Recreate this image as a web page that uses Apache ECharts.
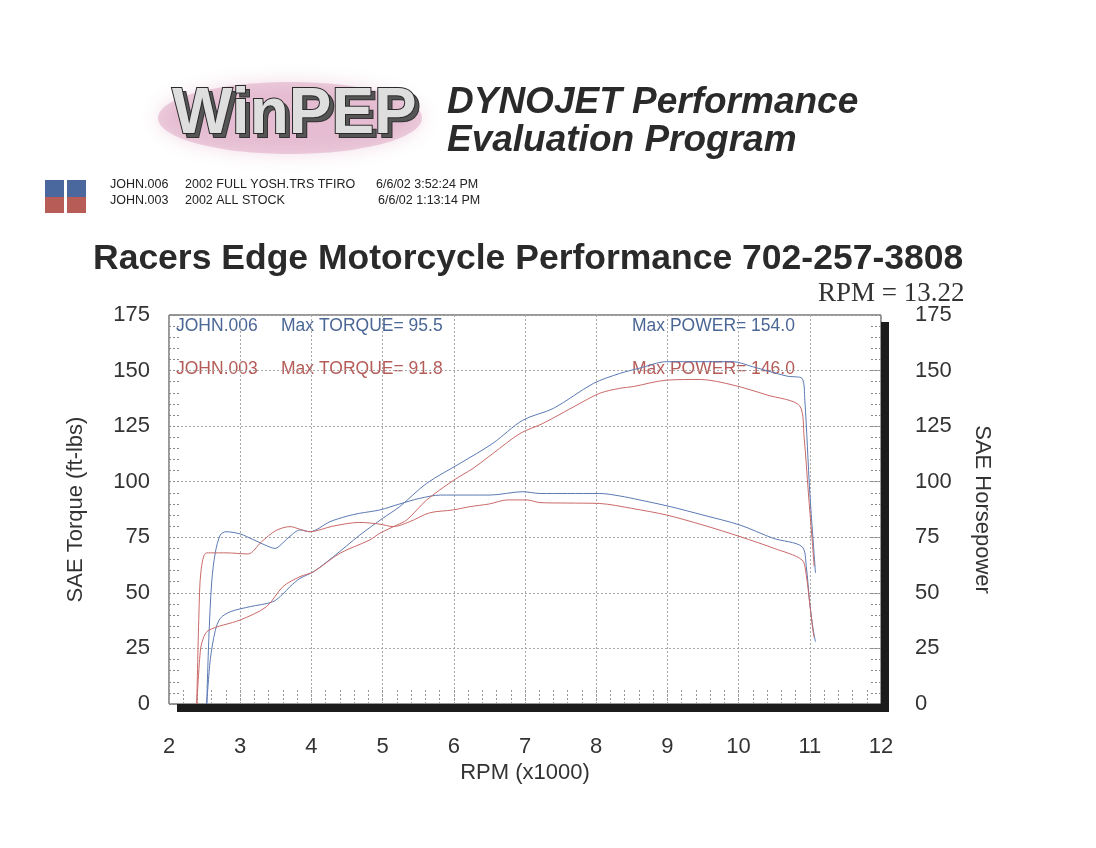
<!DOCTYPE html>
<html>
<head>
<meta charset="utf-8">
<title>WinPEP Dyno Chart</title>
<script src="https://cdn.jsdelivr.net/npm/echarts@6/dist/echarts.min.js"></script>
<style>
  html, body { margin: 0; padding: 0; background: #fff; }
  #chart { width: 1096px; height: 848px; }
</style>
</head>
<body>
<div id="chart"></div>
<script>
// JOHN.006 - 2002 FULL YOSH.TRS TFIRO (blue)
const blueTorqueRpm = [2.53, 2.56, 2.60, 2.65, 2.72, 2.80, 3.00, 3.18, 3.35, 3.49, 3.60, 3.70, 3.84, 3.98, 4.26, 4.50, 4.68, 4.96, 5.24, 5.52, 5.81, 6.20, 6.51, 6.97, 7.21, 7.60, 8.05, 8.33, 8.61, 9.04, 9.50, 10.02, 10.49, 10.89, 10.95, 11.00, 11.05, 11.08];
const blueTorque    = [0, 30, 55, 68, 76, 77.5, 76.5, 74, 71.5, 70, 72.5, 75.5, 78.3, 77.5, 82, 84.5, 85.8, 87.3, 90, 92.5, 94, 94, 94, 95.5, 94.7, 94.7, 94.7, 93.6, 91.8, 88.8, 85, 80.5, 74.5, 70.8, 62, 45, 33, 28];
const blueHpRpm = [2.53, 2.58, 2.65, 2.72, 2.86, 3.14, 3.46, 3.60, 3.70, 3.84, 4.03, 4.31, 4.68, 5.00, 5.24, 5.62, 6.09, 6.55, 6.97, 7.40, 7.96, 8.33, 8.60, 8.99, 9.50, 9.92, 10.20, 10.68, 10.89, 10.93, 11.00, 11.05, 11.08];
const blueHp    = [0, 20, 33, 38.5, 41.5, 43.8, 46, 49.5, 52.8, 56.5, 59.5, 66.3, 76, 83.5, 88.8, 99.3, 108.3, 117.3, 127.7, 133, 144.2, 148.7, 151, 154, 154, 154, 151.7, 147.5, 146.5, 136.7, 95, 72, 59];

// JOHN.003 - 2002 ALL STOCK (red)
const redTorqueRpm = [2.39, 2.42, 2.45, 2.53, 2.80, 3.11, 3.30, 3.50, 3.70, 3.85, 3.98, 4.30, 4.68, 4.96, 5.15, 5.38, 5.66, 5.99, 6.23, 6.50, 6.75, 7.03, 7.21, 7.60, 8.05, 8.50, 8.99, 9.50, 10.02, 10.50, 10.89, 10.95, 11.00, 11.04, 11.06];
const redTorque    = [0, 40, 60, 68, 68, 67.5, 73, 78, 79.8, 78.5, 77.5, 80, 81.7, 80.9, 79.8, 82, 86, 87.3, 88.8, 90, 91.8, 91.8, 90.6, 90.4, 90.2, 88, 85, 80.5, 75.3, 70, 64.8, 58, 45, 34, 30];
const redHpRpm = [2.39, 2.43, 2.46, 2.55, 3.00, 3.37, 3.60, 3.84, 4.03, 4.40, 4.82, 4.96, 5.20, 5.34, 5.62, 5.99, 6.27, 6.55, 6.93, 7.25, 7.73, 8.05, 8.33, 8.52, 8.99, 9.46, 9.92, 10.40, 10.86, 10.92, 10.98, 11.03, 11.06];
const redHp    = [0, 20, 27.4, 33, 37.8, 43.8, 52.8, 57.3, 59.5, 67.8, 73.8, 76.8, 80.5, 82.8, 91.8, 100.5, 106, 112.7, 121.7, 126.2, 134.5, 139.8, 142, 142.8, 145.7, 146, 143.5, 139, 134, 120, 95, 75, 62];

const BLUE_LINE = '#5b79b2';
const RED_LINE = '#c96a68';
const BLUE_TEXT = '#4b6795';
const RED_TEXT = '#b55c58';
const FONT = '"Liberation Sans", Arial, sans-serif';

const pairs = (xs, ys) => xs.map((x, i) => [x, ys[i]]);

const chart = echarts.init(document.getElementById('chart'));

const yAxisBase = {
  type: 'value',
  min: 0,
  max: 175,
  interval: 25,
  axisLine: { show: false },
  axisTick: { show: true, inside: true, length: 12, lineStyle: { color: '#888', type: [2, 2] } },
  minorTick: { show: true, splitNumber: 5, length: 12, lineStyle: { color: '#888', type: [2, 2] } },
  axisLabel: { color: '#333', fontSize: 22, fontFamily: FONT },
  nameLocation: 'middle',
  nameTextStyle: { color: '#333', fontSize: 22, fontFamily: FONT },
};

const option = {
  backgroundColor: '#fff',
  animation: false,
  grid: {
    left: 169, right: 215, top: 315, bottom: 144,
    show: true, borderColor: '#333', borderWidth: 1, backgroundColor: 'transparent',
  },
  xAxis: {
    type: 'value',
    min: 2,
    max: 12,
    interval: 1,
    name: 'RPM (x1000)',
    nameLocation: 'middle',
    nameGap: 58,
    nameTextStyle: { color: '#333', fontSize: 22, fontFamily: FONT },
    axisLine: { show: false },
    axisTick: { show: true, inside: true, length: 14, lineStyle: { color: '#999', type: [2, 2] } },
    minorTick: { show: true, splitNumber: 5, length: 14, lineStyle: { color: '#999', type: [2, 2] } },
    axisLabel: { color: '#333', fontSize: 22, fontFamily: FONT, margin: 32 },
    splitLine: { show: true, lineStyle: { color: '#a8a8a8', width: 1, type: [2, 2] } },
  },
  yAxis: [
    Object.assign({}, yAxisBase, {
      position: 'left',
      name: 'SAE Torque (ft-lbs)',
      nameGap: 82,
      nameRotate: 90,
      axisLabel: Object.assign({}, yAxisBase.axisLabel, { margin: 19 }),
      splitLine: { show: true, lineStyle: { color: '#a8a8a8', width: 1, type: [2, 2] } },
    }),
    Object.assign({}, yAxisBase, {
      position: 'right',
      name: 'SAE Horsepower',
      nameGap: 90,
      nameRotate: -90,
      axisLabel: Object.assign({}, yAxisBase.axisLabel, { margin: 34 }),
      splitLine: { show: false },
    }),
  ],
  series: [
    { name: 'JOHN.006 Torque', type: 'line', yAxisIndex: 0, data: pairs(blueTorqueRpm, blueTorque), showSymbol: false, smooth: 0.3, lineStyle: { color: BLUE_LINE, width: 1 } },
    { name: 'JOHN.006 Power', type: 'line', yAxisIndex: 1, data: pairs(blueHpRpm, blueHp), showSymbol: false, smooth: 0.3, lineStyle: { color: BLUE_LINE, width: 1 } },
    { name: 'JOHN.003 Torque', type: 'line', yAxisIndex: 0, data: pairs(redTorqueRpm, redTorque), showSymbol: false, smooth: 0.3, lineStyle: { color: RED_LINE, width: 1 } },
    { name: 'JOHN.003 Power', type: 'line', yAxisIndex: 1, data: pairs(redHpRpm, redHp), showSymbol: false, smooth: 0.3, lineStyle: { color: RED_LINE, width: 1 } },
  ],
  graphic: [
    // WinPEP logo
    {
      type: 'ellipse', shape: { cx: 290, cy: 118, rx: 132, ry: 36 },
      style: { fill: 'rgba(205,130,170,0.35)', shadowBlur: 18, shadowColor: 'rgba(200,110,155,0.7)' },
    },
    {
      type: 'text', left: 175, top: 86,
      style: { text: 'WinPEP', font: 'bold 64px ' + FONT, fill: '#555', stroke: '#333', lineWidth: 2 },
    },
    {
      type: 'text', left: 171, top: 82,
      style: { text: 'WinPEP', font: 'bold 64px ' + FONT, fill: '#dedede', stroke: '#2a2a2a', lineWidth: 2 },
    },
    { type: 'text', left: 447, top: 84, style: { text: 'DYNOJET Performance', font: 'italic bold 37px ' + FONT, fill: '#2a2a2a' } },
    { type: 'text', left: 447, top: 122, style: { text: 'Evaluation Program', font: 'italic bold 37px ' + FONT, fill: '#2a2a2a' } },

    // run legend squares
    { type: 'rect', shape: { x: 45, y: 180, width: 19, height: 17 }, style: { fill: '#4a689e' } },
    { type: 'rect', shape: { x: 45, y: 197, width: 19, height: 16 }, style: { fill: '#b85c57' } },
    { type: 'rect', shape: { x: 67, y: 180, width: 19, height: 17 }, style: { fill: '#4a689e' } },
    { type: 'rect', shape: { x: 67, y: 197, width: 19, height: 16 }, style: { fill: '#b85c57' } },
    { type: 'text', left: 110, top: 178, style: { text: 'JOHN.006', font: '12.5px ' + FONT, fill: '#222' } },
    { type: 'text', left: 185, top: 178, style: { text: '2002 FULL YOSH.TRS TFIRO', font: '12.5px ' + FONT, fill: '#222' } },
    { type: 'text', left: 376, top: 178, style: { text: '6/6/02 3:52:24 PM', font: '12.5px ' + FONT, fill: '#222' } },
    { type: 'text', left: 110, top: 194, style: { text: 'JOHN.003', font: '12.5px ' + FONT, fill: '#222' } },
    { type: 'text', left: 185, top: 194, style: { text: '2002 ALL STOCK', font: '12.5px ' + FONT, fill: '#222' } },
    { type: 'text', left: 378, top: 194, style: { text: '6/6/02 1:13:14 PM', font: '12.5px ' + FONT, fill: '#222' } },

    // title
    { type: 'text', left: 93, top: 241, style: { text: 'Racers Edge Motorcycle Performance 702-257-3808', font: 'bold 35.5px ' + FONT, fill: '#2a2a2a' } },
    { type: 'text', left: 818, top: 280, style: { text: 'RPM = 13.22', font: '27px "Liberation Serif", "Times New Roman", serif', fill: '#333' } },

    // in-plot max annotations
    { type: 'text', left: 176, top: 317, style: { text: 'JOHN.006', font: '17.5px ' + FONT, fill: BLUE_TEXT } },
    { type: 'text', left: 281, top: 317, style: { text: 'Max TORQUE= 95.5', font: '17.5px ' + FONT, fill: BLUE_TEXT } },
    { type: 'text', left: 632, top: 317, style: { text: 'Max POWER= 154.0', font: '17.5px ' + FONT, fill: BLUE_TEXT } },
    { type: 'text', left: 176, top: 360, style: { text: 'JOHN.003', font: '17.5px ' + FONT, fill: RED_TEXT } },
    { type: 'text', left: 281, top: 360, style: { text: 'Max TORQUE= 91.8', font: '17.5px ' + FONT, fill: RED_TEXT } },
    { type: 'text', left: 632, top: 360, style: { text: 'Max POWER= 146.0', font: '17.5px ' + FONT, fill: RED_TEXT } },

    // heavy frame shadow (right and bottom)
    { type: 'rect', shape: { x: 177, y: 704, width: 712, height: 8 }, style: { fill: '#1c1c1c' }, z: 100 },
    { type: 'rect', shape: { x: 881, y: 322, width: 8, height: 390 }, style: { fill: '#1c1c1c' }, z: 100 },
  ],
};

chart.setOption(option);
</script>
</body>
</html>
